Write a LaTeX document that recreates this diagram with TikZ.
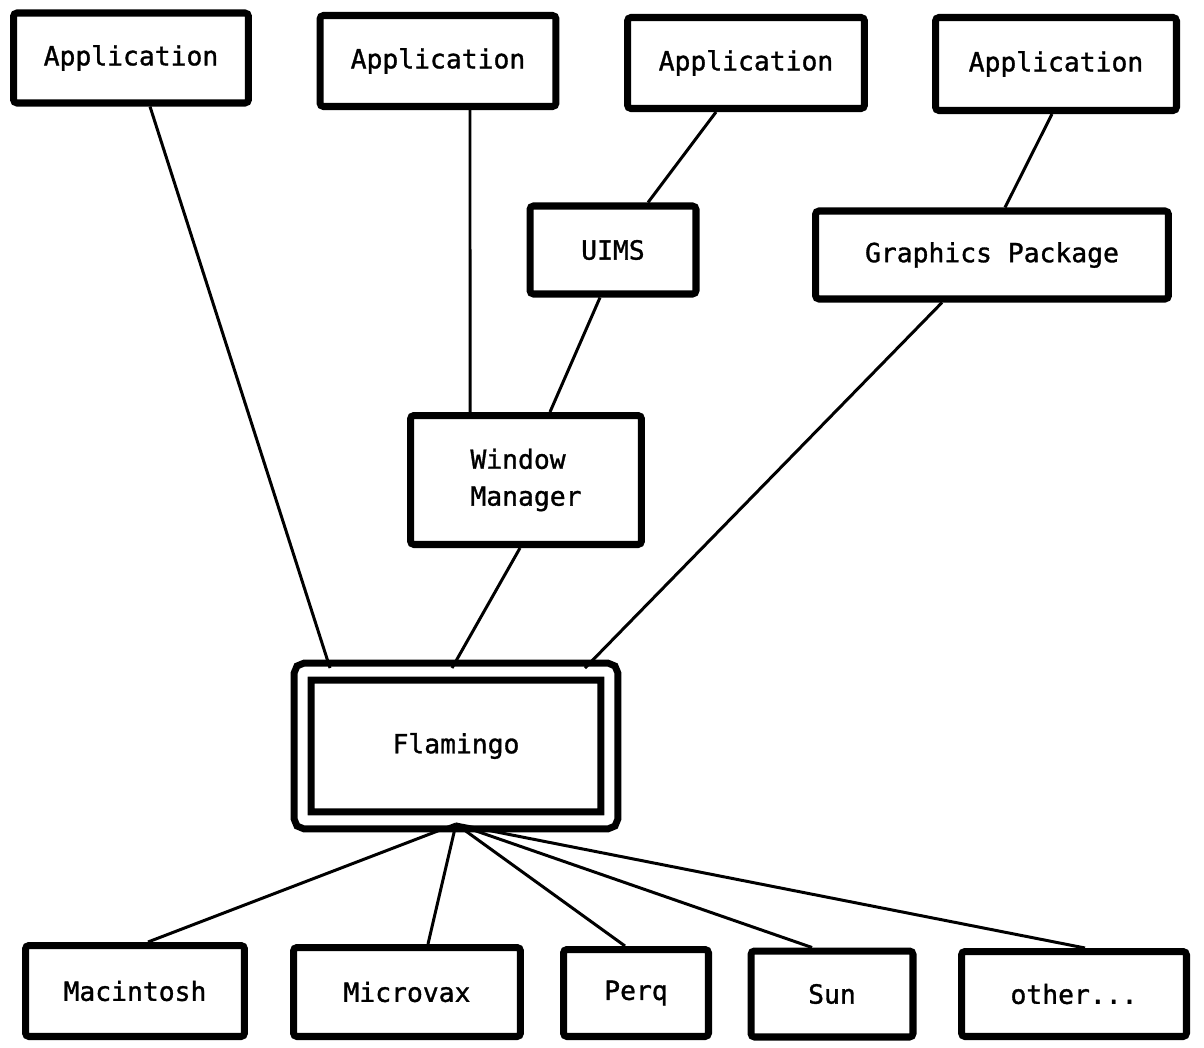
\documentclass[tikz,border=0pt]{standalone}
\usepackage{fontspec}
\setmainfont{DejaVu Sans Mono}[FakeBold=1.2]
\usetikzlibrary{positioning}

\tikzstyle{box}=[draw,line width=4pt,rounded corners=2pt,inner sep=0pt,font=\fontsize{15}{21}\selectfont]
\tikzstyle{link}=[line width=1.7pt]

\begin{document}
\begin{tikzpicture}[x=0.02cm,y=-0.02cm]
  \useasboundingbox (0,0) rectangle (1204,1048);

  % top row
  \node[box,minimum width=4.70cm,minimum height=1.80cm] (app1) at (131,58)   {Application};
  \node[box,minimum width=4.72cm,minimum height=1.82cm] (app2) at (438,61)   {Application};
  \node[box,minimum width=4.74cm,minimum height=1.82cm] (app3) at (746,63)   {Application};
  \node[box,minimum width=4.82cm,minimum height=1.86cm] (app4) at (1056,64)  {Application};

  % middle layer
  \node[box,minimum width=3.32cm,minimum height=1.76cm] (uims)     at (613,250) {UIMS};
  \node[box,minimum width=7.06cm,minimum height=1.76cm] (graphics) at (992,255) {Graphics Package};
  \node[box,minimum width=4.62cm,minimum height=2.58cm,align=left] (wm) at (526,480) {Window\\Manager};

  \node[box,double,double distance=0.2cm,line width=0.14cm,minimum width=6.14cm,minimum height=2.98cm] (flamingo) at (456,746) {Flamingo};

  % machines
  \node[box,minimum width=4.38cm,minimum height=1.82cm] (mac)   at (135,991)  {Macintosh};
  \node[box,minimum width=4.54cm,minimum height=1.78cm] (vax)   at (407,992)  {Microvax};
  \node[box,minimum width=2.90cm,minimum height=1.74cm] (perq)  at (636,993)  {Perq};
  \node[box,minimum width=3.24cm,minimum height=1.72cm] (sun)   at (832,994)  {Sun};
  \node[box,minimum width=4.50cm,minimum height=1.70cm] (other) at (1074,994) {other...};

  \draw[link] ([xshift=0.38cm]app1.south)     -- ([xshift=-2.52cm]flamingo.north);
  \draw[link] ([xshift=0.64cm]app2.south)     -- ([xshift=-1.12cm]wm.north);
  \draw[link] ([xshift=-0.60cm]app3.south)    -- ([xshift=0.70cm]uims.north);
  \draw[link] ([xshift=-0.08cm]app4.south)    -- ([xshift=0.26cm]graphics.north);
  \draw[link] ([xshift=-0.26cm]uims.south)    -- ([xshift=0.48cm]wm.north);
  \draw[link] ([xshift=-1.00cm]graphics.south) -- ([xshift=2.58cm]flamingo.north);
  \draw[link] ([xshift=-0.12cm]wm.south)      -- ([xshift=-0.08cm]flamingo.north);

  \draw[link] (flamingo.south) -- ([xshift=0.26cm]mac.north);
  \draw[link] (flamingo.south) -- ([xshift=0.42cm]vax.north);
  \draw[link] (flamingo.south) -- ([xshift=-0.22cm]perq.north);
  \draw[link] (flamingo.south) -- ([xshift=-0.40cm]sun.north);
  \draw[link] (flamingo.south) -- ([xshift=0.22cm]other.north);
\end{tikzpicture}
\end{document}
